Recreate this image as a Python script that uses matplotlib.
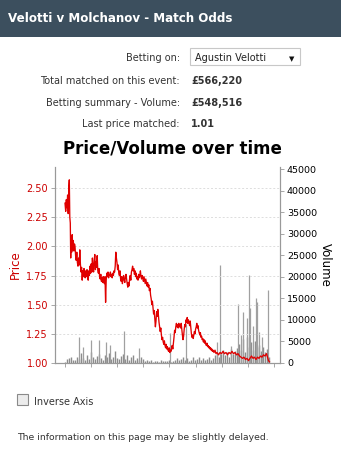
import numpy as np
import matplotlib
matplotlib.use("Agg")
import matplotlib.pyplot as plt
from matplotlib.patches import Rectangle

W, H = 341, 471

# price line (time in arbitrary units, ticks every 26.1)
price_time = [0, 0.7, 1.3, 2.0, 2.6, 3.2, 3.8, 4.3, 4.8, 5.3, 5.7, 6.2, 6.7, 7.2, 7.8, 8.3, 8.9, 9.5,
              10.0, 10.6, 11.2, 11.8, 12.4, 13.0, 13.6, 14.2, 14.8, 15.4, 16.0, 16.6, 17.2, 17.8, 18.4,
              19.0, 19.6, 20.2, 20.8, 21.4, 22.0, 22.6, 23.2, 23.8, 24.4, 25.0, 25.6, 26.2, 26.8, 27.4,
              28.0, 28.6, 29.2, 29.8, 30.4, 31.0, 31.6, 32.2, 32.8, 33.4, 34.0, 34.6, 35.2, 35.8, 36.4,
              37.0, 37.6, 38.2, 38.8, 39.4, 40.0, 40.6, 41.2, 41.8, 42.4, 43.0, 43.6, 44.2, 44.8, 45.4,
              46.0, 46.6, 47.2, 47.8, 48.4, 49.0, 49.6, 50.2, 50.8, 51.4, 52.0, 52.6, 53.2, 53.8, 54.4,
              55.0, 55.6, 56.2, 56.8, 57.4, 58.0, 58.6, 59.2, 59.8, 60.4, 61.0, 61.6, 62.2, 62.8, 63.4,
              64.0, 64.6, 65.2, 65.8, 66.4, 67.0, 67.6, 68.2, 68.8, 69.4, 70.0, 70.6, 71.2, 71.8, 72.4,
              73.0, 73.6, 74.2, 74.8, 75.4, 76.0, 76.6, 77.2, 77.8, 78.4, 79.0, 79.6, 80.2, 80.8, 81.4,
              82.0, 82.6, 83.2, 83.8, 84.4, 85.0, 85.6, 86.2, 86.8, 87.4, 88.0, 88.6, 89.2, 89.8, 90.4,
              91.0, 91.6, 92.2, 92.8, 93.4, 94.0, 94.6, 95.2, 95.8, 96.4, 97.0, 97.6, 98.2, 98.8, 99.4,
              100.0, 100.6, 101.2, 101.8, 102.4, 103.0, 103.6, 104.2, 104.8, 105.4, 106.0, 106.6, 107.2,
              107.8, 108.4, 109.0, 109.6, 110.2, 110.8, 111.4, 112.0, 112.6, 113.2, 113.8, 114.4, 115.0,
              115.6, 116.2, 116.8, 117.4, 118.0, 118.6, 119.2, 119.8, 120.4, 121.0, 121.6, 122.2, 122.8,
              123.4, 124.0, 124.6, 125.2, 125.8, 126.4, 127.0, 127.6, 128.2, 128.8, 129.4, 130.0, 130.6,
              131.2, 131.8, 132.4, 133.0, 133.6, 134.2, 134.8, 135.4, 136.0, 136.6, 137.2, 137.8, 138.4,
              139.0, 139.6, 140.2, 140.8, 141.4, 142.0, 142.6, 143.2, 143.8, 144.4, 145.0, 145.6, 146.2,
              146.8, 147.4, 148.0, 149, 150, 151, 152, 153.5, 155, 156.5, 158, 159.5, 161, 162.5, 164,
              165.5, 167, 168.5, 170, 171.5, 173, 174.5, 176, 177.5, 179, 180.5, 182, 183.5, 185, 186.5,
              188, 189.5, 191, 192.5, 194, 195.5, 197, 198.5, 200, 201.5, 202.5, 203.5, 204.5]
price = [2.37, 2.30, 2.40, 2.33, 2.44, 2.28, 2.50, 2.57, 2.25, 2.20, 1.90, 2.08, 1.95, 2.10, 1.97, 2.05, 1.96, 2.02,
         2.00, 1.92, 1.88, 1.95, 1.86, 1.83, 1.90, 1.84, 1.97, 1.85, 1.78, 1.82, 1.71, 1.79, 1.74,
         1.81, 1.76, 1.73, 1.79, 1.74, 1.80, 1.76, 1.71, 1.79, 1.75, 1.83, 1.77, 1.85, 1.78, 1.90,
         1.82, 1.78, 1.88, 1.93, 1.80, 1.87, 1.82, 1.92, 1.79, 1.77, 1.81, 1.74, 1.72, 1.76, 1.70,
         1.73, 1.69, 1.74, 1.70, 1.68, 1.74, 1.52, 1.71, 1.77, 1.74, 1.78, 1.73, 1.76, 1.75, 1.78,
         1.74, 1.76, 1.73, 1.77, 1.75, 1.79, 1.78, 1.83, 1.95, 1.90, 1.86, 1.80, 1.84, 1.77, 1.75,
         1.79, 1.72, 1.70, 1.74, 1.68, 1.72, 1.75, 1.71, 1.69, 1.74, 1.76, 1.72, 1.68, 1.65, 1.69,
         1.66, 1.72, 1.75, 1.71, 1.78, 1.80, 1.83, 1.79, 1.81, 1.76, 1.79, 1.74, 1.77, 1.72, 1.74,
         1.71, 1.76, 1.73, 1.75, 1.79, 1.74, 1.72, 1.75, 1.73, 1.70, 1.74, 1.71, 1.68, 1.72, 1.69,
         1.66, 1.69, 1.65, 1.67, 1.62, 1.64, 1.58, 1.55, 1.50, 1.53, 1.47, 1.42, 1.45, 1.38, 1.31,
         1.36, 1.44, 1.40, 1.46, 1.41, 1.35, 1.31, 1.27, 1.30, 1.24, 1.20, 1.22, 1.18, 1.16, 1.19,
         1.15, 1.13, 1.16, 1.12, 1.14, 1.11, 1.10, 1.13, 1.09, 1.11, 1.10, 1.13, 1.15,
         1.12, 1.17, 1.22, 1.28, 1.26, 1.31, 1.34, 1.31, 1.33, 1.30, 1.34, 1.31, 1.33,
         1.30, 1.34, 1.29, 1.24, 1.20, 1.23, 1.29, 1.33, 1.31, 1.37, 1.35, 1.39, 1.34,
         1.37, 1.35, 1.32, 1.36, 1.30, 1.25, 1.22, 1.24, 1.21, 1.24, 1.27, 1.25, 1.29,
         1.31, 1.34, 1.30, 1.32, 1.28, 1.26, 1.24, 1.26, 1.22, 1.23, 1.20, 1.21, 1.18,
         1.20, 1.17, 1.19, 1.16, 1.15, 1.17, 1.14, 1.15, 1.13, 1.14, 1.12, 1.13, 1.11,
         1.12, 1.10, 1.11, 1.09, 1.11, 1.08, 1.09, 1.07, 1.09, 1.08, 1.10, 1.08, 1.09, 1.07, 1.09,
         1.08, 1.10, 1.08, 1.09, 1.07, 1.08, 1.06, 1.05, 1.04, 1.05, 1.03, 1.04, 1.02, 1.04, 1.06,
         1.04, 1.05, 1.03, 1.05, 1.04, 1.06, 1.05, 1.07, 1.06, 1.08, 1.05, 1.02, 1.01]

# background traded volume, one bar every 2 time units
vol_time = np.arange(0, 205, 2)
vol = [300, 900, 1100, 1300, 800, 600,
       1500, 900, 2400, 1200, 700, 1800, 1000, 2600, 1400, 900,
       1700, 2200, 1100, 800, 1900, 1300, 2400, 1000, 1500, 2800,
       1200, 900, 1600, 2100, 1000, 1800, 700, 1300, 1900, 800,
       1100, 600, 1400, 900, 500, 700, 400, 600, 300, 500,
       400, 300, 600, 350, 500, 400, 700, 300, 500, 800,
       1200, 600, 900, 1500, 700, 1100, 500, 800, 1300, 600,
       900, 1400, 700, 1100, 600, 1000, 1500, 800, 1200, 1800,
       2500, 1500, 2200, 3000, 1800, 2600, 1400, 3200, 2000, 2800,
       3500, 4500, 3000, 5500, 2500, 6000, 3800, 4800, 3000, 5200,
       3600, 4200, 2800, 3800, 2500, 3200, 1500]
# the tall single trades
spike_time = [14.3, 18.3, 25.7, 34.3, 41, 45, 59, 74.3, 105, 120.7, 151.7, 155, 166, 172.7, 176,
              178.3, 182.3, 184.3, 185.3, 188, 191, 192.3, 194.3, 197, 203.3]
spike_vol = [6100, 3700, 5300, 5300, 4900, 4200, 7500, 3400, 6900, 9000, 4900, 22700, 4000, 13800, 6500,
             11900, 10400, 20400, 12700, 8500, 15000, 14200, 7300, 6000, 16900]

price_ticks = [1.00, 1.25, 1.50, 1.75, 2.00, 2.25, 2.50]
vol_ticks = [0, 5000, 10000, 15000, 20000, 25000, 30000, 35000, 40000, 45000]

plt.rcParams['font.family'] = ['DejaVu Sans']

fig = plt.figure(figsize=(W / 100, H / 100), dpi=100)
fig.patch.set_facecolor('white')


def fx(x):
    return x / W


def fy(y):
    return 1 - y / H


# header bar
fig.patches.append(Rectangle((0, fy(37)), 1, 37 / H, transform=fig.transFigure,
                             facecolor='#3c4f5e', edgecolor='none'))
fig.text(fx(8), fy(19), "Velotti v Molchanov - Match Odds", color='white', fontsize=8.6,
         fontweight='bold', va='center', ha='left')

# info rows
labels = ["Betting on:", "Total matched on this event:", "Betting summary - Volume:", "Last price matched:"]
values = [None, "£566,220", "£548,516", "1.01"]
rows_y = [58, 81, 103, 124]
for lab, val, y in zip(labels, values, rows_y):
    fig.text(fx(180), fy(y), lab, fontsize=7, color='#333333', ha='right', va='center')
    if val:
        fig.text(fx(191), fy(y), val, fontsize=7, color='#333333', ha='left', va='center',
                 fontweight='bold')
fig.patches.append(Rectangle((fx(190), fy(65)), 110 / W, 17 / H, transform=fig.transFigure,
                             facecolor='white', edgecolor='#c8c8c8', lw=0.8))
fig.text(fx(195), fy(58), "Agustin Velotti", fontsize=7, color='#222222', ha='left', va='center')
fig.text(fx(292), fy(59), "▼", fontsize=5, color='#111111', ha='center', va='center')

# chart title
fig.text(fx(172), fy(149), "Price/Volume over time", fontsize=12, fontweight='bold',
         ha='center', va='center', color='black')

# axes: price on left, volume on right
ax = fig.add_axes([fx(55), fy(363), 225 / W, 196 / H])
ax2 = ax.twinx()
ax.set_zorder(2)
ax.patch.set_visible(False)

ax2.vlines(vol_time, 0, vol, color='#8c8c8c', lw=1.0)
ax2.vlines(spike_time, 0, spike_vol, color='#a0a0a0', lw=0.9)
ax.plot(price_time, price, color='#e00000', lw=0.95)

ax.set_xlim(-10, 215)
ax.set_ylim(1.0, 2.68)
ax2.set_ylim(0, 45500)
ax.set_xticks(np.arange(9) * 26.1)
ax.set_xticklabels([])
ax.set_yticks(price_ticks)
ax.set_yticklabels(["%.2f" % p for p in price_ticks])
ax2.set_yticks(vol_ticks)
ax.grid(axis='y', color='#dddddd', linestyle=(0, (2, 2)), lw=0.7)

for a in (ax, ax2):
    a.spines['top'].set_visible(False)
    for s in ('left', 'right', 'bottom'):
        a.spines[s].set_color('#999999')
        a.spines[s].set_linewidth(0.8)
ax.tick_params(axis='y', colors='#cc0000', labelsize=7, length=3, width=0.6, pad=2)
ax.tick_params(axis='x', color='#999999', length=3, width=0.6)
ax2.tick_params(axis='y', colors='black', labelsize=6.8, length=3, width=0.6, pad=2)
ax.tick_params(axis='y', color='#999999')
ax2.tick_params(axis='y', color='#999999')
ax.set_ylabel("Price", color='#cc0000', fontsize=8.5, labelpad=3)
ax2.set_ylabel("Volume", color='black', fontsize=8.5, rotation=270, labelpad=11)

# checkbox and footer
fig.patches.append(Rectangle((fx(17), fy(405)), 11 / W, 11 / H, transform=fig.transFigure,
                             facecolor='#ececec', edgecolor='#8a8a8a', lw=0.8))
fig.text(fx(34), fy(402), "Inverse Axis", fontsize=7, color='#333333', ha='left', va='center')
fig.text(fx(17), fy(437), "The information on this page may be slightly delayed.", fontsize=6.7,
         color='#333333', ha='left', va='center')

fig.savefig("out.png", dpi=100)
